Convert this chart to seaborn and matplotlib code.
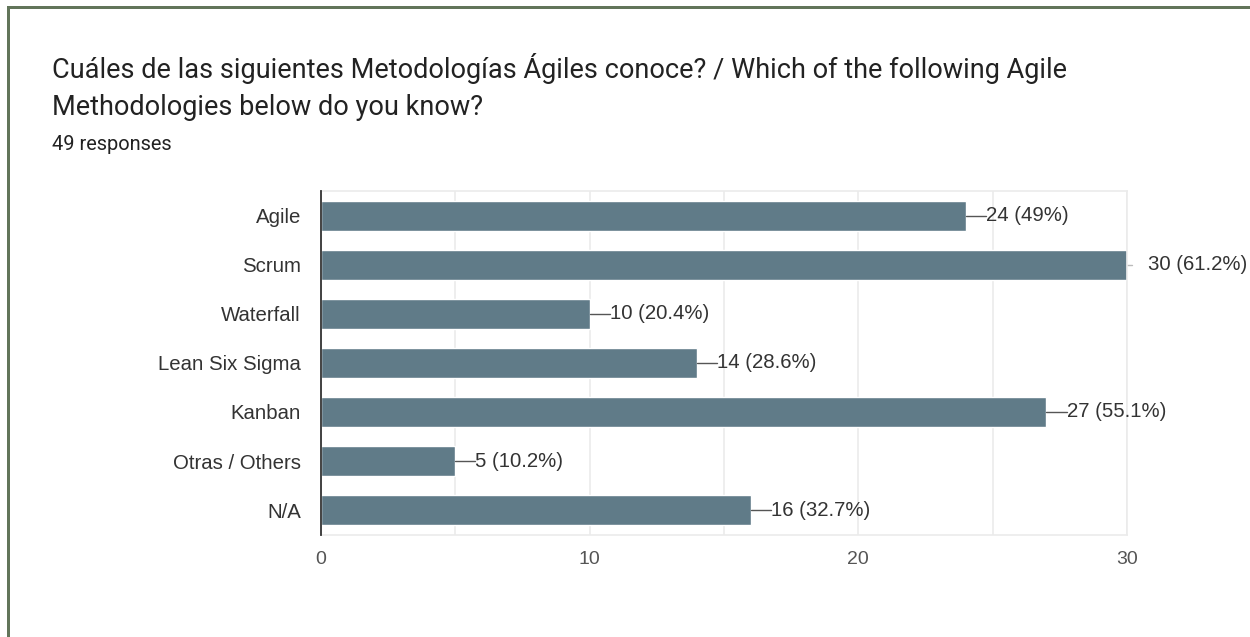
import matplotlib
matplotlib.use("Agg")
import matplotlib.pyplot as plt
import seaborn as sns
import pandas as pd
from matplotlib.patches import Rectangle
from matplotlib.lines import Line2D

categories = ["Agile", "Scrum", "Waterfall", "Lean Six Sigma", "Kanban", "Otras / Others", "N/A"]
counts = [24, 30, 10, 14, 27, 5, 16]
percents = ["49%", "61.2%", "20.4%", "28.6%", "55.1%", "10.2%", "32.7%"]
x_ticks = [0, 10, 20, 30]
title_lines = ["Cuáles de las siguientes Metodologías Ágiles conoce? / Which of the following Agile",
               "Methodologies below do you know?"]
subtitle_text = "49 responses"

bar_color = "#607b88"
grid_color = "#ebebeb"
text_color = "#333333"
label_size = 14.7

sns.set_theme(style="white")
plt.rcParams["font.family"] = ["Liberation Sans", "DejaVu Sans"]

df = pd.DataFrame({"category": categories, "count": counts})

fig = plt.figure(figsize=(12.5, 6.37), dpi=100)
ax = fig.add_axes([0.2568, 0.1609, 0.6448, 0.5385])

sns.barplot(data=df, y="category", x="count", orient="h", color=bar_color,
            saturation=1, width=0.61, ax=ax)

ax.set_xlim(0, 30)
ax.set_ylim(6.5, -0.5)
ax.set_xticks(x_ticks)
ax.set_xticks([5, 15, 25], minor=True)
ax.grid(True, axis="x", which="both", color=grid_color, linewidth=1.2)
ax.set_axisbelow(True)
ax.set_xlabel("")
ax.set_ylabel("")
for side in ["top", "right", "bottom"]:
    ax.spines[side].set_color(grid_color)
    ax.spines[side].set_linewidth(1.2)
ax.spines["left"].set_color("#333333")
ax.spines["left"].set_linewidth(1.3)
ax.spines["left"].set_zorder(5)
ax.tick_params(axis="y", length=0, pad=14.5, labelsize=label_size, labelcolor=text_color)
ax.tick_params(axis="x", which="both", length=0, pad=12, labelsize=14, labelcolor="#555555")

# value labels with short leader lines
for i, (c, p) in enumerate(zip(counts, percents)):
    label = f"{c} ({p})"
    if c == max(ax.get_xlim()):
        ax.add_line(Line2D([c, c + 0.2], [i, i], color="#bbbbbb", lw=1, clip_on=False))
        ax.text(c + 0.8, i, label, va="center", ha="left", fontsize=label_size,
                color=text_color, clip_on=False)
    else:
        ax.add_line(Line2D([c, c + 0.75], [i, i], color="#555555", lw=1, clip_on=False))
        ax.text(c + 0.75, i, label, va="center", ha="left", fontsize=label_size,
                color=text_color, clip_on=False)

for line, base_y in zip(title_lines, [78, 115]):
    fig.text(52 / 1250, 1 - base_y / 637, line, fontsize=19.5, color="#222222",
             family=["Roboto", "DejaVu Sans"], va="baseline", ha="left")
fig.text(52 / 1250, 1 - 150 / 637, subtitle_text, fontsize=14.4, color="#222222",
         family=["Roboto", "DejaVu Sans"], va="baseline", ha="left")

# card border on the left and top edges
border = "#62755a"
fig.add_artist(Rectangle((7 / 1250, 0), 3 / 1250, 1 - 6 / 637, transform=fig.transFigure,
                         color=border, lw=0))
fig.add_artist(Rectangle((7 / 1250, 1 - 9 / 637), 1, 3 / 637, transform=fig.transFigure,
                         color=border, lw=0))

fig.savefig("out.png", dpi=100)
